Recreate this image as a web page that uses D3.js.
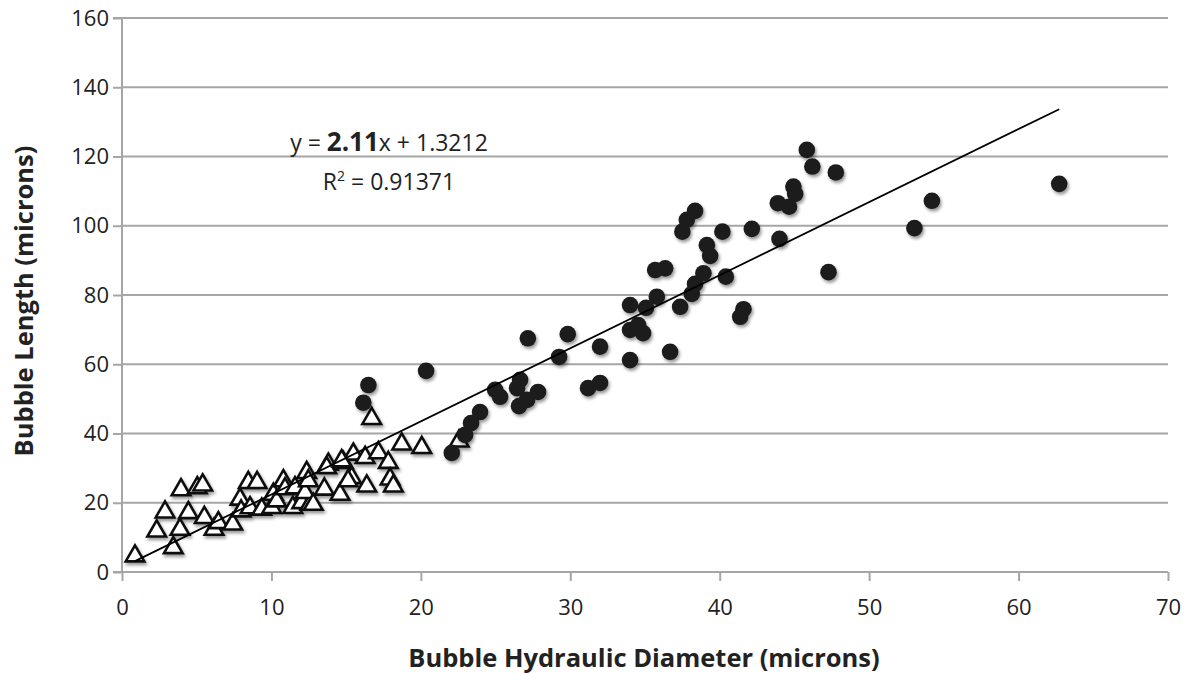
<!DOCTYPE html>
<html><head><meta charset="utf-8">
<script src="https://cdn.jsdelivr.net/npm/d3@7"></script>
<style>body{margin:0;background:#fff}svg{display:block}</style>
</head><body><svg id="c" width="1196" height="673"></svg>
<script>
// ---- data ----
const xTicks = [0, 10, 20, 30, 40, 50, 60, 70];
const yTicks = [0, 20, 40, 60, 80, 100, 120, 140, 160];
const xTitle = "Bubble Hydraulic Diameter (microns)";
const yTitle = "Bubble Length (microns)";

// filled circles
const circleX = [62.72, 54.20, 53.03, 47.28, 47.77, 46.20, 45.83, 44.93, 45.05, 43.89, 44.64, 44.00, 42.15, 41.59, 41.37, 40.41, 40.18, 39.36, 39.14, 38.91, 38.35, 37.80, 37.50, 38.35, 38.13, 37.35, 36.35, 35.68, 35.79, 35.07, 34.00, 34.54, 34.00, 34.87, 36.68, 34.00, 31.99, 31.99, 31.19, 29.83, 29.25, 27.16, 27.84, 27.11, 26.57, 26.64, 26.44, 24.97, 25.30, 23.96, 23.36, 22.96, 22.07, 20.35, 16.49, 16.15];
const circleY = [112.1, 107.2, 99.3, 86.6, 115.4, 117.1, 121.9, 111.3, 109.2, 106.5, 105.5, 96.2, 99.1, 75.9, 73.7, 85.3, 98.3, 91.3, 94.4, 86.3, 104.3, 101.7, 98.3, 83.2, 80.3, 76.6, 87.7, 87.2, 79.5, 76.3, 77.1, 71.3, 69.9, 69.0, 63.6, 61.2, 65.1, 54.6, 53.1, 68.7, 62.1, 67.5, 52.0, 49.7, 47.9, 55.5, 53.1, 52.6, 50.6, 46.2, 43.0, 39.6, 34.4, 58.1, 54.0, 48.9];

// open triangles
const triX = [0.87, 3.43, 2.32, 2.88, 3.88, 4.44, 3.95, 5.04, 5.40, 5.51, 6.16, 6.45, 7.41, 7.90, 7.97, 8.45, 9.04, 8.57, 9.35, 10.02, 10.13, 10.35, 10.80, 10.91, 11.43, 11.58, 12.03, 12.36, 12.58, 12.25, 12.80, 12.47, 13.54, 13.81, 13.70, 14.59, 14.81, 15.37, 15.48, 15.13, 16.27, 16.38, 16.71, 17.16, 17.82, 17.94, 18.16, 18.72, 20.06, 22.56, 14.70];
const triY = [4.9, 7.3, 12.1, 17.6, 12.6, 17.4, 24.0, 24.6, 25.4, 16.0, 12.6, 14.5, 14.1, 21.3, 17.9, 26.1, 26.1, 18.8, 18.4, 18.9, 22.7, 20.8, 26.6, 24.3, 18.9, 24.6, 20.3, 29.0, 19.8, 23.2, 19.8, 26.6, 24.2, 31.4, 30.4, 22.7, 31.9, 27.5, 34.3, 26.6, 33.3, 25.1, 44.6, 34.7, 31.9, 27.1, 25.1, 37.2, 36.2, 38.1, 32.4];

// trend line
const slope = 2.11, intercept = 1.3212, r2Text = "0.91371";
const fitXRange = [0.87, 62.72];

// ---- chart ----
const svg = d3.select("#c");
const font = "'Open Sans', sans-serif";
const pLeft = 122, pRight = 1168, pTop = 18, pBottom = 572;
const x = d3.scaleLinear().domain([0, 70]).range([pLeft, pRight]);
const y = d3.scaleLinear().domain([0, 160]).range([pBottom, pTop]);

const defs = svg.append("defs");
const f = defs.append("filter").attr("id", "sh").attr("x", "-50%").attr("y", "-50%").attr("width", "200%").attr("height", "200%");
f.append("feDropShadow").attr("dx", 1.5).attr("dy", 2.5).attr("stdDeviation", 1.7).attr("flood-color", "#000").attr("flood-opacity", 0.4);

// gridlines
svg.append("g").selectAll("line").data(yTicks.filter(d => d > 0)).join("line")
  .attr("x1", pLeft).attr("x2", pRight).attr("y1", d => y(d)).attr("y2", d => y(d))
  .attr("stroke", "#a6a6a6").attr("stroke-width", 2);

// y axis
const yAxis = svg.append("g").attr("transform", `translate(${pLeft},0)`)
  .call(d3.axisLeft(y).tickValues(yTicks).tickSize(9).tickPadding(4).tickFormat(d3.format("d")));
yAxis.select(".domain").attr("stroke", "#a6a6a6").attr("stroke-width", 2).attr("d", `M-9,${pTop}H0V${pBottom}H-9`);
yAxis.selectAll(".tick line").attr("stroke", "#a6a6a6").attr("stroke-width", 2);
yAxis.selectAll(".tick text").attr("font-family", font).attr("font-size", 22).attr("fill", "#222");

// x axis
const xAxis = svg.append("g").attr("transform", `translate(0,${pBottom})`)
  .call(d3.axisBottom(x).tickValues(xTicks).tickSize(9).tickPadding(18).tickFormat(d3.format("d")));
xAxis.select(".domain").attr("stroke", "#a6a6a6").attr("stroke-width", 2).attr("d", `M${pLeft},0H${pRight}`);
xAxis.selectAll(".tick line").attr("stroke", "#a6a6a6").attr("stroke-width", 2);
xAxis.selectAll(".tick text").attr("font-family", font).attr("font-size", 22).attr("fill", "#222");

// triangles
const triSym = d3.symbol().type(d3.symbolTriangle).size(150);
svg.append("g").attr("filter", "url(#sh)").selectAll("path").data(triX.map((v, i) => [v, triY[i]])).join("path")
  .attr("d", triSym)
  .attr("transform", d => `translate(${x(d[0])},${y(d[1]) + 1})`)
  .attr("fill", "#fff").attr("stroke", "#111").attr("stroke-width", 2.6).attr("stroke-linejoin", "miter");

// circles
svg.append("g").attr("filter", "url(#sh)").selectAll("circle").data(circleX.map((v, i) => [v, circleY[i]])).join("circle")
  .attr("cx", d => x(d[0])).attr("cy", d => y(d[1])).attr("r", 8.3)
  .attr("fill", "#1b1b1b");

// trend line
svg.append("line")
  .attr("x1", x(fitXRange[0])).attr("y1", y(slope * fitXRange[0] + intercept))
  .attr("x2", x(fitXRange[1])).attr("y2", y(slope * fitXRange[1] + intercept))
  .attr("stroke", "#000").attr("stroke-width", 1.8);

// equation
const eq = svg.append("text").attr("x", 389).attr("y", 151).attr("text-anchor", "middle")
  .attr("font-family", font).attr("font-size", 23).attr("fill", "#222");
eq.append("tspan").text("y = ");
eq.append("tspan").attr("font-weight", "bold").attr("font-size", 26).text(String(slope));
eq.append("tspan").text("x + " + intercept);
const r2 = svg.append("text").attr("x", 389).attr("y", 190).attr("text-anchor", "middle")
  .attr("font-family", font).attr("font-size", 23).attr("fill", "#222");
r2.append("tspan").text("R");
r2.append("tspan").attr("font-size", 14).attr("dy", -9).text("2");
r2.append("tspan").attr("dy", 9).text(" = " + r2Text);

// axis titles
svg.append("text").attr("x", 644).attr("y", 667).attr("text-anchor", "middle")
  .attr("font-family", font).attr("font-weight", "bold").attr("font-size", 25.5).attr("fill", "#222").text(xTitle);
svg.append("text").attr("transform", `translate(33,301) rotate(-90)`).attr("text-anchor", "middle")
  .attr("font-family", font).attr("font-weight", "bold").attr("font-size", 25.5).attr("fill", "#222").text(yTitle);
</script></body></html>
